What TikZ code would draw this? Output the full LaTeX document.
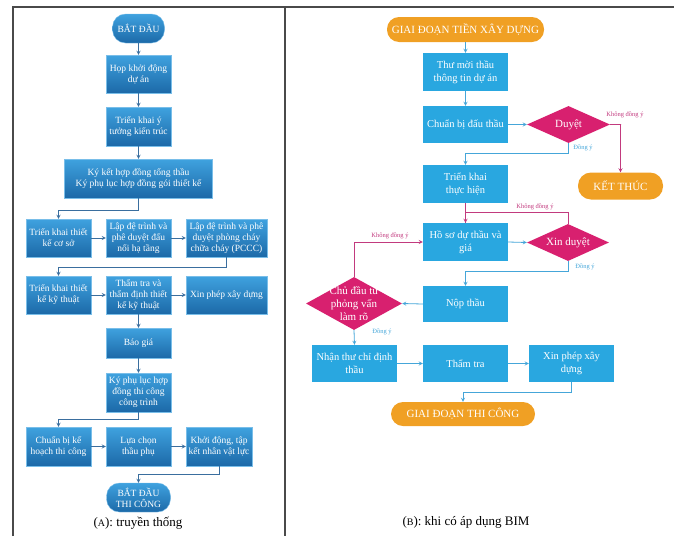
\documentclass[tikz,border=0pt]{standalone}
\usepackage{fontspec}
\setmainfont{Liberation Serif}
\usetikzlibrary{shapes.geometric,arrows}
\definecolor{oldtop}{HTML}{3FA2DF}
\definecolor{oldbot}{HTML}{1C69A8}
\definecolor{oldline}{HTML}{3A6E9E}
\definecolor{bimblue}{HTML}{29A7E0}
\definecolor{bimline}{HTML}{45A6D9}
\definecolor{bimorange}{HTML}{F0A024}
\definecolor{bimpink}{HTML}{D8206F}
\definecolor{pinkline}{HTML}{C23A7E}
\definecolor{framegray}{HTML}{4A4A4A}
\tikzset{
  oldbox/.style={rectangle,draw=oldtop!70!white,line width=0.4pt,top color=oldtop,bottom color=oldbot,
    text=white,align=center,font=\fontsize{9.5}{11}\selectfont,minimum width=65,minimum height=38,inner sep=1pt},
  oldend/.style={oldbox,rounded corners=13,minimum height=29},
  oldarr/.style={draw=oldline,line width=0.8pt,-stealth},
  bimbox/.style={rectangle,fill=bimblue,text=white,align=center,font=\fontsize{10.5}{13}\selectfont,
    minimum width=85,minimum height=37,inner sep=1pt},
  bimend/.style={rectangle,rounded corners=12,fill=bimorange,text=white,font=\fontsize{11}{12}\selectfont,
    minimum height=25,inner sep=2pt},
  bimdia/.style={diamond,aspect=2.2,fill=bimpink,text=white,align=center,font=\fontsize{11}{13}\selectfont,inner sep=0pt},
  yesarr/.style={draw=bimline,line width=0.8pt,-stealth},
  noarr/.style={draw=pinkline,line width=0.8pt,-stealth},
  nolbl/.style={text=pinkline,font=\fontsize{6.5}{7}\selectfont,inner sep=0pt},
  yeslbl/.style={text=bimline,font=\fontsize{6.5}{7}\selectfont,inner sep=0pt},
  frame/.style={draw=framegray,line width=1.5pt}
}
\begin{document}
\begin{tikzpicture}[x=1pt,y=-1pt]
\useasboundingbox (0,0) rectangle (674,536);
\draw[frame] (13,536) -- (13,7) -- (674,7);
\draw[frame] (285,7) -- (285,536);
% (A) truyen thong
\node[oldend,minimum width=52] (batdau) at (138.5,28.5) {BẮT ĐẦU};
\node[oldbox] (hop) at (138.5,74) {Họp khởi động\\dự án};
\node[oldbox,minimum height=39] (ytuong) at (138.5,126.5) {Triển khai ý\\tưởng kiến trúc};
\node[oldbox,minimum width=148,minimum height=39] (kyket) at (138.5,178.5) {Ký kết hợp đồng tổng thầu\\Ký phụ lục hợp đồng gói thiết kế};
\node[oldbox] (coso) at (58.5,238) {Triển khai thiết\\kế cơ sở};
\node[oldbox] (daunoi) at (138.5,238) {Lập đệ trình và\\phê duyệt đấu\\nối hạ tầng};
\node[oldbox,minimum width=81] (pccc) at (226.5,238) {Lập đệ trình và phê\\duyệt phòng cháy\\chữa cháy (PCCC)};
\node[oldbox] (kythuat) at (58.5,295) {Triển khai thiết\\kế kỹ thuật};
\node[oldbox] (thamdinh) at (138.5,295) {Thẩm tra và\\thẩm định thiết\\kế kỹ thuật};
\node[oldbox,minimum width=81] (xinphepA) at (226.5,295) {Xin phép xây dựng};
\node[oldbox,minimum height=30] (baogia) at (138.5,343) {Báo giá};
\node[oldbox,minimum height=39] (phuluc) at (138.5,392.5) {Ký phụ lục hợp\\đồng thi công\\công trình};
\node[oldbox,minimum height=39] (kehoach) at (58.5,446.5) {Chuẩn bị kế\\hoạch thi công};
\node[oldbox,minimum height=39] (thauphu) at (138.5,446.5) {Lựa chọn\\thầu phụ};
\node[oldbox,minimum width=66,minimum height=39] (khoidong) at (219,446.5) {Khởi động, tập\\kết nhân vật lực};
\node[oldend,minimum width=64] (thicongA) at (138.5,497.5) {BẮT ĐẦU\\THI CÔNG};
\node[font=\fontsize{13}{15}\selectfont] (capA) at (138,523) {({\fontsize{10}{10}\selectfont A}): truyền thống};
\draw[oldarr] (batdau.south) -- (hop.north);
\draw[oldarr] (hop.south) -- (ytuong.north);
\draw[oldarr] (ytuong.south) -- (kyket.north);
\draw[oldarr] (kyket.south) -- ++(0,12) -| (coso.north);
\draw[oldarr] (coso.east) -- (daunoi.west);
\draw[oldarr] (daunoi.east) -- (pccc.west);
\draw[oldarr] (pccc.south) -- ++(0,10) -| (kythuat.north);
\draw[oldarr] (kythuat.east) -- (thamdinh.west);
\draw[oldarr] (thamdinh.east) -- (xinphepA.west);
\draw[oldarr] (thamdinh.south) -- (baogia.north);
\draw[oldarr] (baogia.south) -- (phuluc.north);
\draw[oldarr] (phuluc.south) -- ++(0,7) -| (kehoach.north);
\draw[oldarr] (kehoach.east) -- (thauphu.west);
\draw[oldarr] (thauphu.east) -- (khoidong.west);
\draw[oldarr] (khoidong.south) -- ++(0,8) -| (thicongA.north);
% (B) khi co ap dung BIM
\node[bimend,minimum width=157] (tienxd) at (465.5,29.5) {GIAI ĐOẠN TIỀN XÂY DỰNG};
\node[bimbox,minimum height=38] (thumoi) at (465.5,72) {Thư mời thầu\\thông tin dự án};
\node[bimbox] (chuanbi) at (465.5,124.5) {Chuẩn bị đấu thầu};
\node[bimdia,minimum width=83,minimum height=37] (duyet) at (568.5,124.5) {Duyệt};
\node[bimend,minimum width=85,minimum height=27,rounded corners=13] (ketthuc) at (620.5,186) {KẾT THÚC};
\node[bimbox,minimum height=38] (trienkhai) at (465.5,184) {Triển khai\\thực hiện};
\node[bimbox,minimum height=38] (hoso) at (465.5,242) {Hồ sơ dự thầu và\\giá};
\node[bimdia,minimum width=82,minimum height=37] (xinduyet) at (568,242.5) {Xin duyệt};
\node[bimbox,minimum height=36] (nopthau) at (465.5,304) {Nộp thầu};
\node[bimdia,minimum width=96,minimum height=53,
  label={[text=white,align=center,font=\fontsize{11}{13}\selectfont]center:Chủ đầu tư\\phỏng vấn\\làm rõ}] (phongvan) at (354,303.5) {};
\node[bimbox] (chidinh) at (354.5,363.5) {Nhận thư chỉ định\\thầu};
\node[bimbox] (thamtra) at (465.5,363.5) {Thẩm tra};
\node[bimbox] (xinphepB) at (571.5,363.5) {Xin phép xây\\dựng};
\node[bimend,minimum width=144,minimum height=24] (thicongB) at (463,414) {GIAI ĐOẠN THI CÔNG};
\node[font=\fontsize{13}{15}\selectfont] (capB) at (466,522) {({\fontsize{10}{10}\selectfont B}): khi có áp dụng BIM};
\node[nolbl] (kdy1) at (625,115) {Không đồng ý};
\node[yeslbl] (dy1) at (583,148) {Đồng ý};
\node[nolbl] (kdy2) at (535,207) {Không đồng ý};
\node[yeslbl] (dy2) at (585,267) {Đồng ý};
\node[nolbl] (kdy3) at (390,236) {Không đồng ý};
\node[yeslbl] (dy3) at (382,332) {Đồng ý};
\draw[yesarr] (tienxd.south) -- (thumoi.north);
\draw[yesarr] (thumoi.south) -- (chuanbi.north);
\draw[yesarr] (chuanbi.east) -- (duyet.west);
\draw[noarr] (duyet.east) -- ++(11,0) -| (ketthuc.north);
\draw[yesarr] (duyet.south) -- ++(0,10) -| (trienkhai.north);
\draw[noarr] (trienkhai.south) -- (hoso.north);
\draw[noarr,-] (xinduyet.north) -- ++(0,-11) -| (hoso.north);
\draw[yesarr] (hoso.east) -- (xinduyet.west);
\draw[yesarr] (xinduyet.south) -- ++(0,10) -| (nopthau.north);
\draw[yesarr] (nopthau.west) -- (phongvan.east);
\draw[noarr] (phongvan.north) |- (hoso.west);
\draw[yesarr] (phongvan.south) -- (chidinh.north);
\draw[yesarr] (chidinh.east) -- (thamtra.west);
\draw[yesarr] (thamtra.east) -- (xinphepB.west);
\draw[yesarr] (xinphepB.south) -- ++(0,10) -| (thicongB.north);
\end{tikzpicture}
\end{document}
